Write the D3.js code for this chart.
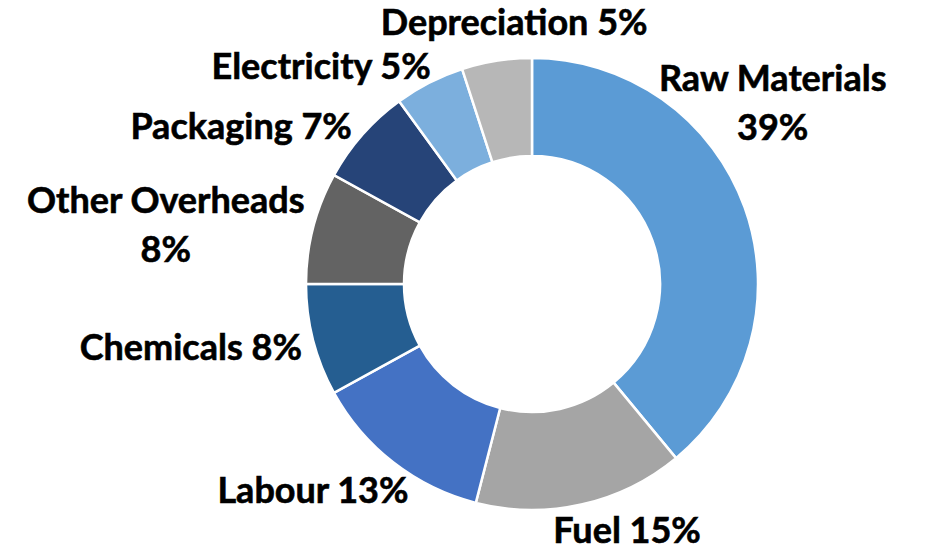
<!DOCTYPE html>
<html>
<head>
<meta charset="utf-8">
<script src="https://cdn.jsdelivr.net/npm/d3@7"></script>
<style>
  body { margin: 0; background: #fff; }
  svg text { font-family: Lato, "Open Sans", sans-serif; font-weight: 700; fill: #000; stroke: #000; stroke-width: 0.6px; }
</style>
</head>
<body>
<svg width="926" height="551"></svg>
<script>
// chart data
const categories = ["Raw Materials", "Fuel", "Labour", "Chemicals", "Other Overheads", "Packaging", "Electricity", "Depreciation"];
const shares = [39, 15, 13, 8, 8, 7, 5, 5];
const colors = ["#5B9BD5", "#A5A5A5", "#4472C4", "#255E91", "#636363", "#264478", "#7CAFDD", "#B7B7B7"];

// labels were dragged around in the original, so each one gets a turn (deg) and distance from the middle
const labelTurn = [-17.1, -8.5, 8.9, 3.9, -5.2, -12.9, -17.1, 5.1];
const labelDist = [301, 264, 301, 347, 371, 331, 303, 262];
const twoLine = ["Raw Materials", "Other Overheads"];

const cx = 532, cy = 284;
const outerR = 226, innerR = 128;

const svg = d3.select("svg");
const g = svg.append("g")
             .attr("transform", "translate(" + cx + "," + cy + ")");

const rows = categories.map((c, i) => ({name: c, value: shares[i], i: i}));

const pie = d3.pie()
              .sort(null)
              .value(d => d.value);

const arc = d3.arc()
              .innerRadius(innerR)
              .outerRadius(outerR);

const color = d3.scaleOrdinal()
                .domain(categories)
                .range(colors);

const slices = pie(rows);

// donut slices
g.selectAll("path")
 .data(slices)
 .enter()
 .append("path")
 .attr("d", arc)
 .attr("fill", d => color(d.data.name))
 .attr("stroke", "#fff")
 .attr("stroke-width", 2.5);

// labels
const fontSize = 36, lineGap = 49;
const labels = g.selectAll("text.lbl")
                .data(slices)
                .enter()
                .append("text")
                .attr("class", "lbl")
                .style("font-size", fontSize + "px")
                .attr("text-anchor", "middle")
                .attr("transform", function (d) {
                    const mid = (d.startAngle + d.endAngle) / 2 + labelTurn[d.data.i] * Math.PI / 180;
                    const p = d3.pointRadial(mid, labelDist[d.data.i]);
                    return "translate(" + p[0] + "," + p[1] + ")";
                });

labels.each(function (d) {
    const t = d3.select(this);
    const pct = d.data.value + "%";
    if (twoLine.includes(d.data.name)) {
        t.append("tspan").attr("x", 0).attr("y", -lineGap / 2).attr("dy", "0.35em").text(d.data.name);
        t.append("tspan").attr("x", 0).attr("y", lineGap / 2).attr("dy", "0.35em").text(pct);
    } else {
        t.append("tspan").attr("x", 0).attr("y", 0).attr("dy", "0.35em").text(d.data.name + " " + pct);
    }
});
</script>
</body>
</html>
